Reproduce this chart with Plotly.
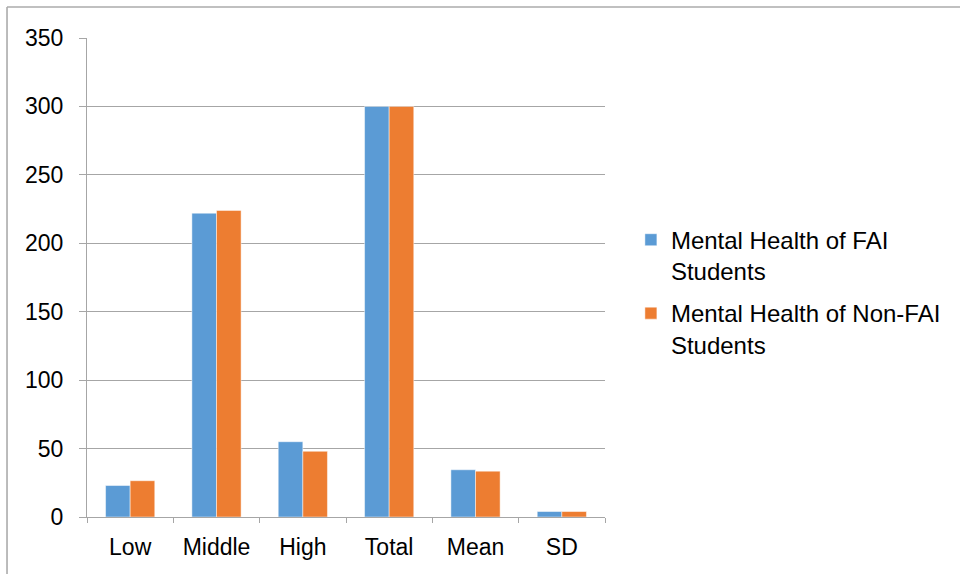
import plotly.graph_objects as go

categories = ["Low", "Middle", "High", "Total", "Mean", "SD"]
fai = [23, 222, 55, 300, 34.5, 4]
non_fai = [26.5, 224, 48, 300, 33.5, 4]
series_names = ["Mental Health of FAI<br>Students", "Mental Health of Non-FAI<br>Students"]
y_ticks = [0, 50, 100, 150, 200, 250, 300, 350]

FONT = "Liberation Sans, Arial, Helvetica, sans-serif"
GRID = "#a6a6a6"

fig = go.Figure()
fig.add_trace(go.Bar(x=categories, y=fai, name=series_names[0], legendgroup="g1",
                     marker=dict(color="#5B9BD5", line=dict(color="rgba(255,255,255,0.6)", width=0.8))))
fig.add_trace(go.Bar(x=categories, y=non_fai, name=series_names[1], legendgroup="g2",
                     marker=dict(color="#ED7D31", line=dict(color="rgba(255,255,255,0.6)", width=0.8))))

fig.update_layout(
    width=960, height=574,
    margin=dict(l=87, r=355, t=38, b=57),
    paper_bgcolor="white", plot_bgcolor="white",
    barmode="group", bargap=0.43, bargroupgap=0,
    font=dict(family=FONT, size=23, color="#000000"),
    showlegend=True,
    legend=dict(x=1.05, y=0.625, xanchor="left", yanchor="top",
                font=dict(size=24, family=FONT), valign="top",
                tracegroupgap=8, bgcolor="rgba(0,0,0,0)"),
    xaxis=dict(showline=True, linecolor=GRID, linewidth=1.3,
               ticks="outside", tickson="boundaries", ticklen=5, tickcolor=GRID, tickwidth=1.3,
               showgrid=False, ticklabelstandoff=9),
    yaxis=dict(range=[0, 350], tickvals=y_ticks, showline=True, linecolor=GRID, linewidth=1.3,
               ticks="outside", ticklen=7, tickcolor=GRID, tickwidth=1.3,
               showgrid=True, gridcolor=GRID, gridwidth=1.3, zeroline=False,
               ticklabelstandoff=11),
)

# outer frame (top and left edges visible)
fig.add_shape(type="line", xref="paper", yref="paper", x0=-0.1544, x1=1.8, y0=1.0647, y1=1.0647,
              line=dict(color="#ababab", width=1.6))
fig.add_shape(type="line", xref="paper", yref="paper", x0=-0.1544, x1=-0.1544, y0=-0.2, y1=1.0647,
              line=dict(color="#ababab", width=1.6))

fig.write_html("out.html")
